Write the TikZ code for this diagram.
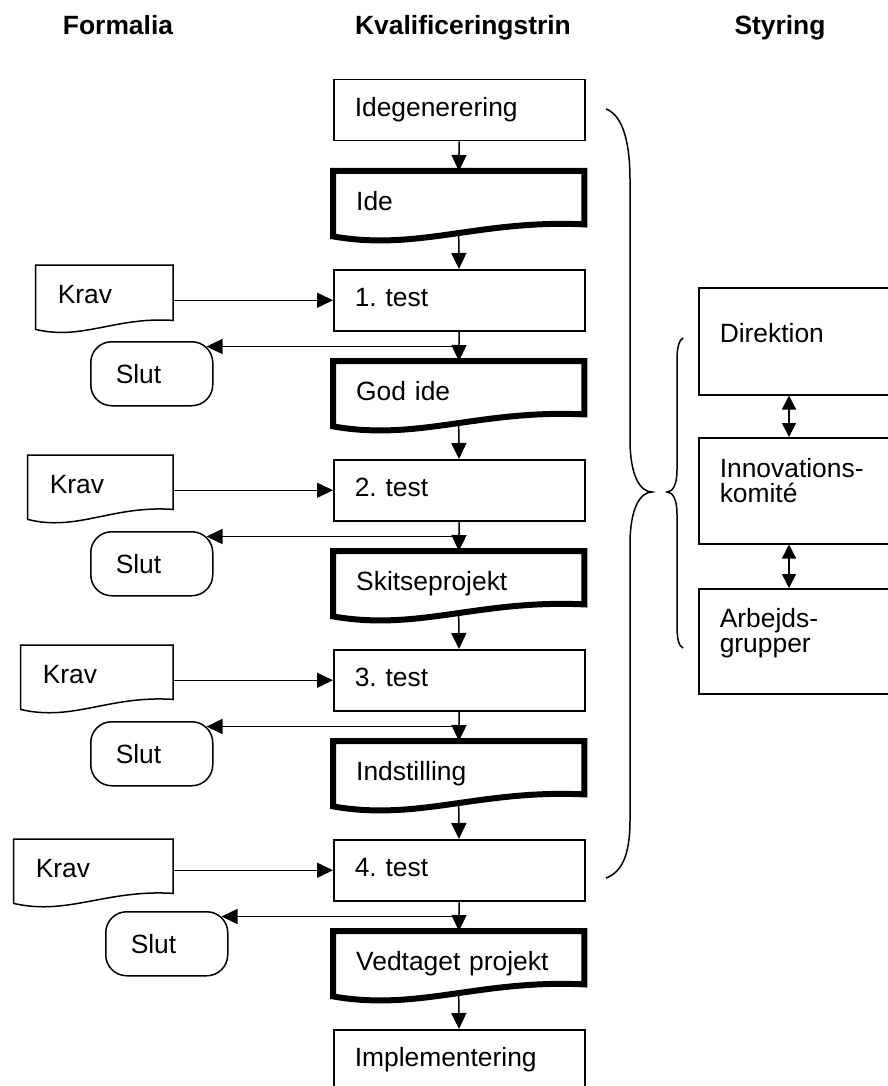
\documentclass[tikz,border=0pt]{standalone}
\usepackage{fontspec}
\setmainfont{Liberation Sans}
\usetikzlibrary{arrows.meta,calc}

% document outline with a wavy bottom (#3 = drop of the left corner)
\newcommand{\docoutline}[3][]{%
  \draw[#1] (#2.north west) -- (#2.north east) -- ($(#2.south east)+(0,-#3)$)
    .. controls ($(#2.south east)!0.42!(#2.south west)+(0,-1.42*#3)$)
    and ($(#2.south east)!0.66!(#2.south west)+(0,1.25*#3)$) .. (#2.south west) -- cycle;
  \coordinate (#2-w) at ($(#2.south)+(0,-0.2*#3)$);}

\begin{document}
\frenchspacing
\begin{tikzpicture}[
  x=1pt, y=-1pt,
  font=\fontsize{26.4}{25}\selectfont,
  head/.style={font=\fontsize{26.4}{30}\selectfont\bfseries, text height=19pt, text depth=6pt},
  box/.style={draw, line width=1.5pt, anchor=north west, text width=209pt, inner xsep=21pt, minimum height=61pt, align=left, text height=19pt, text depth=6pt},
  doc/.style={anchor=north west, text width=205pt, inner xsep=23pt, minimum height=65pt, align=left, text height=19pt, text depth=6pt},
  krav/.style={anchor=north east, inner xsep=22pt, minimum height=64pt, align=left, text height=19pt, text depth=6pt},
  slut/.style={draw, line width=1.5pt, rounded corners=21pt, anchor=north west, text width=72pt, inner xsep=25pt, minimum height=64pt, align=left},
  ctrl/.style={draw, line width=1.5pt, anchor=north west, text width=155pt, inner xsep=21pt, align=left, text height=19pt, text depth=46pt},
  docline/.style={line width=6pt},
  thinline/.style={line width=1.5pt},
  arrow/.style={-{Triangle[length=16pt,width=15pt]}, line width=1.5pt},
  dblarrow/.style={{Triangle[length=14pt,width=14pt]}-{Triangle[length=14pt,width=14pt]}, line width=1.5pt},
  brace/.style={line width=1.5pt}
]
  \useasboundingbox (0,0) rectangle (888,1086);

  \node[head] (hform) at (118,28.5) {Formalia};
  \node[head] (hkval) at (463,28.5) {Kvalificeringstrin};
  \node[head] (hstyr) at (780,28.5) {Styring};

  % qualification steps
  \node[box] (idegen) at (333,79) {Idegenerering};
  \node[doc] (ide) at (333,171) {Ide};
  \node[box] (t1) at (333,269) {1. test};
  \node[doc] (godide) at (333,361) {God ide};
  \node[box] (t2) at (333,459) {2. test};
  \node[doc] (skitse) at (333,551) {Skitseprojekt};
  \node[box] (t3) at (333,649) {3. test};
  \node[doc] (indst) at (333,741) {Indstilling};
  \node[box] (t4) at (333,839) {4. test};
  \node[doc] (vedt) at (333,931) {Vedtaget projekt};
  \node[box] (impl) at (333,1029) {Implementering};

  % formalia
  \node[krav, text width=93pt] (krav1) at (173,265) {Krav};
  \node[krav, text width=101pt] (krav2) at (173,455) {Krav};
  \node[krav, text width=108pt] (krav3) at (173,645) {Krav};
  \node[krav, text width=115pt] (krav4) at (173,839) {Krav};
  \node[slut] (slut1) at (90,341) {Slut};
  \node[slut] (slut2) at (90,531) {Slut};
  \node[slut] (slut3) at (90,721) {Slut};
  \node[slut] (slut4) at (105,911) {Slut};

  % styring
  \node[ctrl, minimum height=107pt, text depth=17pt] (dir) at (698,287) {Direktion};
  \node[ctrl, minimum height=106pt] (innov) at (698,437) {Innovations-\\komité};
  \node[ctrl, minimum height=105pt] (arb) at (698,588) {Arbejds-\\grupper};

  \docoutline[docline]{ide}{12}
  \docoutline[docline]{godide}{12}
  \docoutline[docline]{skitse}{12}
  \docoutline[docline]{indst}{12}
  \docoutline[docline]{vedt}{12}
  \docoutline[thinline]{krav1}{9}
  \docoutline[thinline]{krav2}{10}
  \docoutline[thinline]{krav3}{10}
  \docoutline[thinline]{krav4}{10}

  \draw[arrow] (idegen) -- (ide);
  \draw[arrow] (ide-w) -- (t1);
  \draw[arrow] (t1) -- (godide);
  \draw[arrow] (godide-w) -- (t2);
  \draw[arrow] (t2) -- (skitse);
  \draw[arrow] (skitse-w) -- (t3);
  \draw[arrow] (t3) -- (indst);
  \draw[arrow] (indst-w) -- (t4);
  \draw[arrow] (t4) -- (vedt);
  \draw[arrow] (vedt-w) -- (impl);

  \draw[arrow] (t1.west -| krav1.east) -- (t1.west);
  \draw[arrow] (t2.west -| krav2.east) -- (t2.west);
  \draw[arrow] (t3.west -| krav3.east) -- (t3.west);
  \draw[arrow] (t4.west -| krav4.east) -- (t4.west);

  \coordinate (b1) at ($(t1.south)+(0,15)$);
  \coordinate (b2) at ($(t2.south)+(0,15)$);
  \coordinate (b3) at ($(t3.south)+(0,15)$);
  \coordinate (b4) at ($(t4.south)+(0,15)$);
  \draw[arrow, shorten >=-7pt] (b1) -- (b1 -| slut1.east);
  \draw[arrow, shorten >=-7pt] (b2) -- (b2 -| slut2.east);
  \draw[arrow, shorten >=-7pt] (b3) -- (b3 -| slut3.east);
  \draw[arrow, shorten >=-7pt] (b4) -- (b4 -| slut4.east);

  \coordinate (ax) at (789,0);
  \draw[dblarrow] (dir.south -| ax) -- (innov.north -| ax);
  \draw[dblarrow] (innov.south -| ax) -- (arb.north -| ax);

  % braces
  \draw[brace] (606,109) .. controls (622,115) and (630,140) .. (630,180) -- (630,440)
    .. controls (630,475) and (640,492) .. (652,492)
    .. controls (640,492) and (630,509) .. (630,544) -- (630,820)
    .. controls (630,855) and (622,872) .. (606,878);
  \draw[brace] (683,338) .. controls (679,340) and (677,348) .. (677,360) -- (677,470)
    .. controls (677,484) and (673,492) .. (667,492)
    .. controls (673,492) and (677,500) .. (677,514) -- (677,626)
    .. controls (677,640) and (679,646) .. (683,648);
\end{tikzpicture}
\end{document}
